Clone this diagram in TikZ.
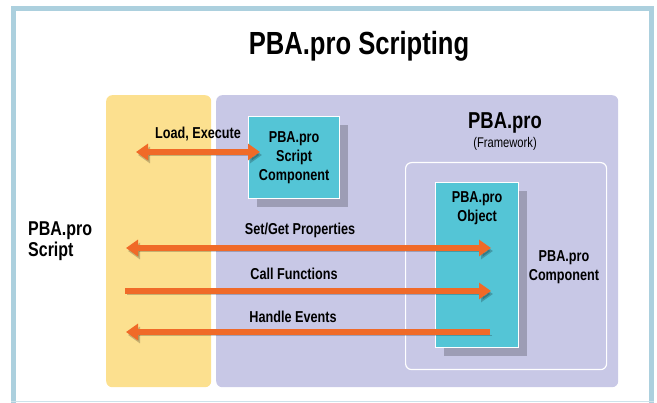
\documentclass[tikz,border=0pt]{standalone}
\usepackage{fontspec}
\setmainfont{Liberation Sans}[FakeStretch=0.8]
\usetikzlibrary{positioning, arrows.meta, shadows}

\definecolor{frameblue}{RGB}{172,208,222}
\definecolor{scriptyellow}{RGB}{252,224,143}
\definecolor{fwpurple}{RGB}{200,200,230}
\definecolor{boxcyan}{RGB}{84,197,214}
\definecolor{arroworange}{RGB}{240,106,40}

\tikzset{
	panel/.style={rounded corners=6pt, anchor=north west, inner sep=0pt},
	box/.style={draw=white, line width=1.2pt, fill=boxcyan, anchor=north west, inner sep=0pt,
		drop shadow={shadow xshift=8pt, shadow yshift=-8pt, fill=black, opacity=.21}},
	lbl/.style={font=\fontsize{15.8}{19}\selectfont\bfseries, align=center, inner sep=0pt},
	fatarrow/.style={draw=arroworange, line width=6pt,
		preaction={draw=black, opacity=.21, transform canvas={shift={(2pt,-3pt)}}}},
	tip/.tip={Triangle[length=12pt, width=16pt]},
}

\begin{document}
\begin{tikzpicture}[x=1pt, y=-1pt]
	\useasboundingbox (0,0) rectangle (657,403);

	% frame
	\draw[frameblue, line width=5pt] (13.5,420) -- (13.5,8.5) -- (651,8.5) -- (651,420);
	\draw[frameblue!60, line width=1.5pt] (11,401.5) -- (654,401.5);

	\node[font=\fontsize{32}{36}\selectfont\bfseries] (title) at (359,46) {PBA.pro Scripting};

	% panels
	\node[panel, fill=scriptyellow, minimum width=105pt, minimum height=292pt] (scriptpanel) at (106,95) {};
	\node[panel, fill=fwpurple, minimum width=402pt, minimum height=292pt] (framework) at (216,95) {};
	\node[panel, draw=white, line width=1.2pt, minimum width=201pt, minimum height=207pt] (component) at (405,162) {};

	% boxes
	\node[box, minimum width=91pt, minimum height=82pt, lbl] (scriptcomp) at (248,116) {PBA.pro\\Script\\Component};
	\node[box, minimum width=83pt, minimum height=165pt] (object) at (435,182) {};
	\node[lbl, below=9pt of object.north] (objlabel) {PBA.pro\\Object};

	% texts
	\node[lbl, font=\fontsize{20}{21}\selectfont\bfseries, anchor=west, align=left] (scriptlabel) at (28,241) {PBA.pro\\Script};
	\node[font=\fontsize{23}{26}\selectfont\bfseries, inner sep=0pt] (fwlabel) at (505,123) {PBA.pro};
	\node[font=\fontsize{14}{16}\selectfont, inner sep=0pt, below=4pt of fwlabel] (fwsub) {(Framework)};
	\node[lbl] (complabel) at (564,267) {PBA.pro\\Component};

	% arrows
	\coordinate (loadA) at (136,152);
	\coordinate (loadB) at (260,152);
	\coordinate (propA) at (126,248);
	\coordinate (propB) at (491,248);
	\coordinate (callA) at (125,291);
	\coordinate (callB) at (491,291);
	\coordinate (evtA) at (126,332);
	\coordinate (evtB) at (490,332);

	\draw[fatarrow, tip-tip] (loadA) -- (loadB) node[lbl, midway, above=8pt] {Load, Execute};
	\draw[fatarrow, tip-tip] (propA) -- (propB);
	\draw[fatarrow, -tip] (callA) -- (callB);
	\draw[fatarrow, -tip] (evtB) -- (evtA);

	\node[lbl] (proplabel) at (300,230) {Set/Get Properties};
	\node[lbl] (calllabel) at (294,274) {Call Functions};
	\node[lbl] (evtlabel) at (293,317) {Handle Events};
\end{tikzpicture}
\end{document}
